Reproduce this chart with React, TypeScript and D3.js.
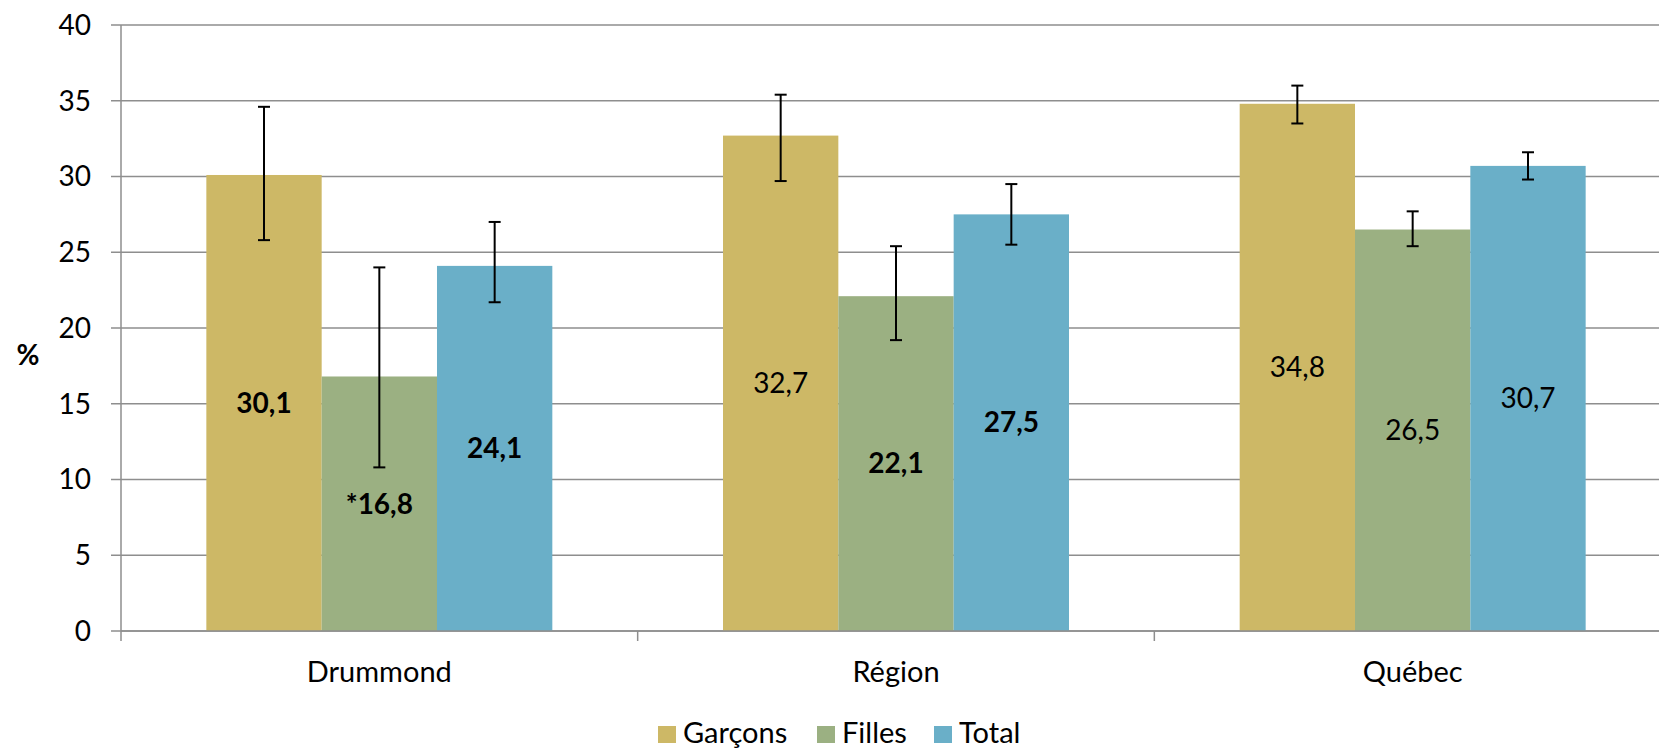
import React from "react";
import * as d3 from "d3";

const categories = ["Drummond", "Région", "Québec"];
const seriesNames = ["Garçons", "Filles", "Total"];
const seriesColors = ["#CDB866", "#9BB082", "#6AAFC8"];
const garcons = [30.1, 32.7, 34.8];
const filles = [16.8, 22.1, 26.5];
const total = [24.1, 27.5, 30.7];
const garconsLow = [25.8, 29.7, 33.5];
const garconsHigh = [34.6, 35.4, 36.0];
const fillesLow = [10.8, 19.2, 25.4];
const fillesHigh = [24.0, 25.4, 27.7];
const totalLow = [21.7, 25.5, 29.8];
const totalHigh = [27.0, 29.5, 31.6];
const labelText = [
  ["30,1", "32,7", "34,8"],
  ["*16,8", "22,1", "26,5"],
  ["24,1", "27,5", "30,7"],
];
const labelBold = [
  [true, false, false],
  [true, true, false],
  [true, true, false],
];
const yTicks = [0, 5, 10, 15, 20, 25, 30, 35, 40];

const W = 1659;
const H = 748;
const FONT = "Lato, 'Open Sans', sans-serif";

export default function App() {
  const left = 121;
  const right = 1671;
  const top = 25;
  const bottom = 631;
  const x0 = d3.scaleBand<string>().domain(categories).range([left, right]).paddingInner(0).paddingOuter(0);
  const x1 = d3.scaleBand<string>().domain(seriesNames).range([0, x0.bandwidth()]).paddingInner(0).paddingOuter(0.74);
  const y = d3.scaleLinear().domain([0, 40]).range([bottom, top]);
  const values = [garcons, filles, total];
  const lows = [garconsLow, fillesLow, totalLow];
  const highs = [garconsHigh, fillesHigh, totalHigh];
  const gridColor = "#8E8E8E";

  const legendItems = [
    { x: 658, name: seriesNames[0], color: seriesColors[0] },
    { x: 817, name: seriesNames[1], color: seriesColors[1] },
    { x: 934, name: seriesNames[2], color: seriesColors[2] },
  ];

  return (
    <svg width={W} height={H} style={{ position: "absolute", left: 0, top: 0, background: "#fff" }} fontFamily={FONT}>
      {yTicks.map((t) => (
        <g key={t}>
          <line x1={left - 10} x2={right} y1={y(t)} y2={y(t)} stroke={gridColor} strokeWidth={1.5} />
          <text x={91} y={y(t)} dy="0.35em" textAnchor="end" fontSize={28} fill="#000">{t}</text>
        </g>
      ))}
      <line x1={left} x2={left} y1={top} y2={bottom + 10} stroke={gridColor} strokeWidth={1.5} />
      {categories.map((c) => (
        <line key={"tk" + c} x1={x0(c)! + x0.bandwidth()} x2={x0(c)! + x0.bandwidth()} y1={bottom} y2={bottom + 10} stroke={gridColor} strokeWidth={1.5} />
      ))}
      {seriesNames.map((s, si) =>
        categories.map((c, ci) => {
          const bx = x0(c)! + x1(s)!;
          const v = values[si][ci];
          return (
            <rect key={s + c} x={bx} y={y(v)} width={x1.bandwidth()} height={bottom - y(v)} fill={seriesColors[si]} />
          );
        })
      )}
      <line x1={left} x2={right} y1={bottom} y2={bottom} stroke={gridColor} strokeWidth={1.5} />
      {seriesNames.map((s, si) =>
        categories.map((c, ci) => {
          const cx = x0(c)! + x1(s)! + x1.bandwidth() / 2;
          const lo = y(lows[si][ci]);
          const hi = y(highs[si][ci]);
          return (
            <g key={"e" + s + c} stroke="#000" strokeWidth={2}>
              <line x1={cx} x2={cx} y1={hi} y2={lo} />
              <line x1={cx - 6} x2={cx + 6} y1={hi} y2={hi} />
              <line x1={cx - 6} x2={cx + 6} y1={lo} y2={lo} />
            </g>
          );
        })
      )}
      {seriesNames.map((s, si) =>
        categories.map((c, ci) => {
          const cx = x0(c)! + x1(s)! + x1.bandwidth() / 2;
          const v = values[si][ci];
          return (
            <text key={"l" + s + c} x={cx} y={(y(v) + bottom) / 2} dy="0.35em" textAnchor="middle" fontSize={28}
              fontWeight={labelBold[si][ci] ? 700 : 400} fill="#000">{labelText[si][ci]}</text>
          );
        })
      )}
      {categories.map((c) => (
        <text key={"c" + c} x={x0(c)! + x0.bandwidth() / 2} y={682} textAnchor="middle" fontSize={29} fill="#000">{c}</text>
      ))}
      <text x={28} y={355} dy="0.35em" textAnchor="middle" fontSize={28} fontWeight={700} fill="#000">%</text>
      {legendItems.map((it) => (
        <g key={it.name}>
          <rect x={it.x} y={726} width={18} height={17} fill={it.color} />
          <text x={it.x + 25} y={743} fontSize={29} fill="#000">{it.name}</text>
        </g>
      ))}
    </svg>
  );
}
